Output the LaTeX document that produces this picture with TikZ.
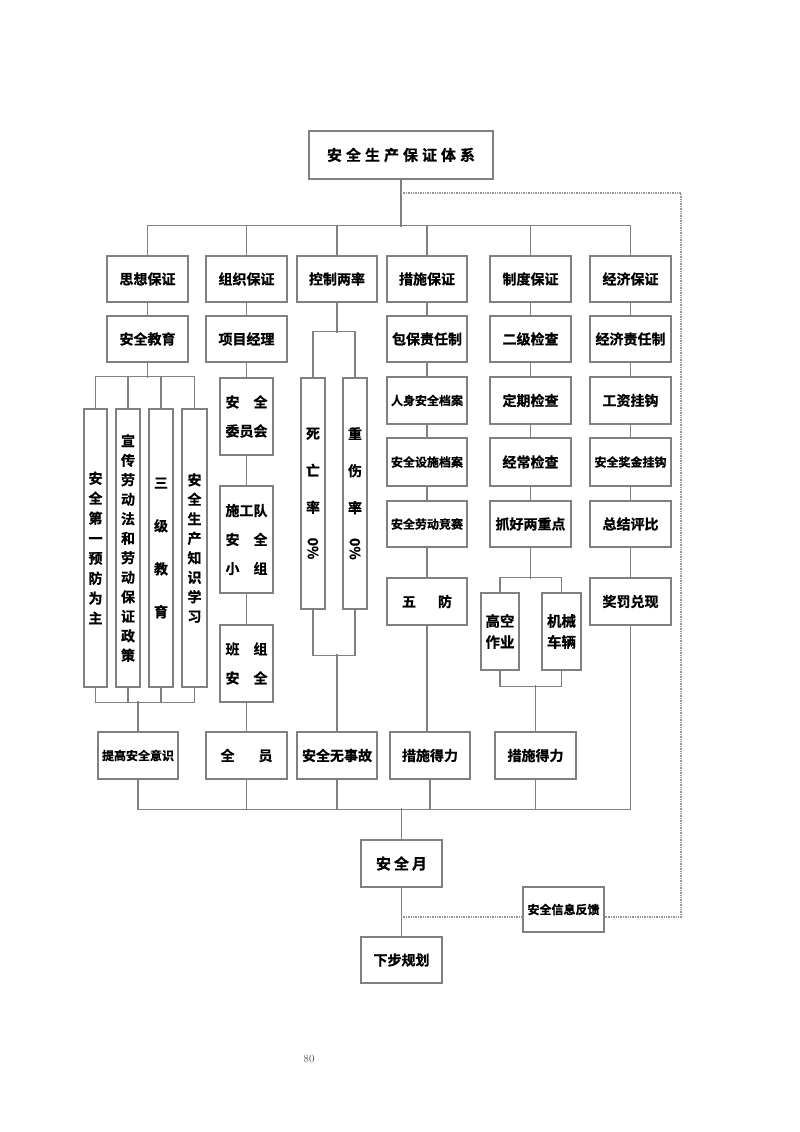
\documentclass[tikz,border=0pt]{standalone}
\usepackage{fontspec}
\usepackage{graphicx}
\newfontfamily\cjk{Noto Sans CJK SC}[BoldFont={Noto Sans CJK SC Bold},BoldFeatures={FakeBold=0.8}]
\definecolor{lc}{RGB}{128,128,128}
\definecolor{fc}{RGB}{150,150,155}
\newcommand\bx[7][]{\node[bx,#1,minimum width={(#5-#3)*1pt},minimum height={(#6-#4)*1pt}] (#2) at ({(#3+#5)/2},{(#4+#6)/2}) {#7};}
\newcommand\cf[2]{\cjk\bfseries\fontsize{#1}{#2}\selectfont}
\newcommand\vcol[2]{\vbox{\baselineskip=#1\lineskiplimit=-100pt\lineskip=0pt\relax #2}}
\newcommand\hc[1]{\hbox to 14pt{\hss#1\hss}}
\begin{document}
\begin{tikzpicture}[x=1pt,y=-1pt,
  ln/.style={draw=lc,line width=1.2pt},
  bx/.style={draw=lc,line width=1.2pt,inner sep=0pt,align=center,text=black,
    font=\cf{14}{17}},
  six/.style={font=\cf{12}{15}},
  vtwide/.style={font=\cf{14}{43}},
  vtrate/.style={font=\cf{14}{37}},
  bline/.style={font=\cf{14}{29}},
  eline/.style={font=\cf{14.5}{22}},
  fb/.style={draw=fc,line width=1.4pt,densely dotted}]
\useasboundingbox (0,0) rectangle (800,1132);
% top
\bx[font=\cf{15}{18}]{T}{309}{131}{493}{179}{安\hspace{4pt}全\hspace{4pt}生\hspace{4pt}产\hspace{4pt}保\hspace{4pt}证\hspace{4pt}体\hspace{4pt}系}
% level 1
\bx{A1}{107}{256}{188}{302}{思想保证}
\bx{B1}{206}{256}{287}{302}{组织保证}
\bx{C1}{297}{256}{377}{302}{控制两率}
\bx{D1}{387}{256}{467}{302}{措施保证}
\bx{E1}{490}{256}{571}{302}{制度保证}
\bx{F1}{590}{256}{671}{302}{经济保证}
% level 2
\bx{A2}{107}{316}{188}{362}{安全教育}
\bx{B2}{206}{316}{287}{362}{项目经理}
\bx{D2}{387}{316}{467}{362}{包保责任制}
\bx{E2}{490}{316}{571}{362}{二级检查}
\bx{F2}{590}{316}{671}{362}{经济责任制}
% D E F columns
\bx[six]{D3}{387}{377}{467}{424}{人身安全档案}
\bx{E3}{490}{377}{571}{424}{定期检查}
\bx{F3}{590}{377}{671}{424}{工资挂钩}
\bx[six]{D4}{387}{438}{467}{486}{安全设施档案}
\bx{E4}{490}{438}{571}{486}{经常检查}
\bx[six]{F4}{590}{438}{671}{486}{安全奖金挂钩}
\bx[six]{D5}{387}{501}{467}{547}{安全劳动竞赛}
\bx{E5}{490}{501}{571}{547}{抓好两重点}
\bx{F5}{590}{501}{671}{547}{总结评比}
\bx{D6}{387}{578}{467}{625}{五\hspace{22pt}防}
\bx{F6}{590}{578}{671}{625}{奖罚兑现}
\bx[font=\cf{14.5}{21}]{E6a}{481}{593}{519}{670}{\vcol{21pt}{\hbox{高空}\hbox{作业}}}
\bx[font=\cf{14.5}{21}]{E6b}{542}{593}{581}{670}{\vcol{21pt}{\hbox{机械}\hbox{车辆}}}
% A column
\bx{A3a}{84}{409}{107}{687}{\vcol{20pt}{\hc{安}\hc{全}\hc{第}\hc{一}\hc{预}\hc{防}\hc{为}\hc{主}}}
\bx{A3b}{116}{409}{140}{687}{\vcol{19.5pt}{\hc{宣}\hc{传}\hc{劳}\hc{动}\hc{法}\hc{和}\hc{劳}\hc{动}\hc{保}\hc{证}\hc{政}\hc{策}}}
\bx[vtwide]{A3c}{149}{409}{173}{687}{三\\级\\教\\育}
\bx{A3d}{182}{409}{207}{687}{\vcol{19.5pt}{\hc{安}\hc{全}\hc{生}\hc{产}\hc{知}\hc{识}\hc{学}\hc{习}}}
% B column
\bx[bline]{B3}{220}{378}{273}{455}{安　全\\委员会}
\bx[bline]{B4}{220}{486}{273}{593}{施工队\\安　全\\小　组}
\bx[bline]{B5}{220}{625}{273}{702}{班　组\\安　全}
% C column
\bx[vtrate]{C3a}{301}{378}{325}{609}{死\\亡\\率\\\raisebox{12pt}{\rotatebox{-90}{0\%}}}
\bx[vtrate]{C3b}{343}{378}{367}{609}{重\\伤\\率\\\raisebox{12pt}{\rotatebox{-90}{0\%}}}
% bottom row
\bx[six]{A7}{98}{732}{178}{779}{提高安全意识}
\bx{B7}{206}{732}{287}{779}{全\hspace{24pt}员}
\bx{C7}{297}{732}{377}{779}{安全无事故}
\bx{D7}{390}{732}{470}{779}{措施得力}
\bx{E7}{495}{732}{576}{779}{措施得力}
\bx[font=\cf{15}{18}]{M}{361}{840}{442}{887}{安\hspace{3pt}全\hspace{3pt}月}
\bx{N}{361}{937}{442}{983}{下步规划}
\bx[six]{R}{523}{887}{604}{932}{安全信息反馈}
\node[font=\fontsize{11}{13}\selectfont,text={rgb,255:red,70;green,70;blue,70}] (pg) at (309,1059) {80};
% connectors: top
\draw[ln] (T.south) -- ++(0,47);
\draw[ln] (A1.north) -- ++(0,-30) -| (F1.north);
\draw[ln] (B1.north) -- ++(0,-30);
\draw[ln] (C1.north) -- ++(0,-30);
\draw[ln] (D1.north) -- ++(0,-30);
\draw[ln] (E1.north) -- ++(0,-30);
% A
\draw[ln] (A1.south) -- (A2.north);
\draw[ln] (A2.south) -- ++(0,15);
\draw[ln] (A3a.north) -- ++(0,-32) -| (A3d.north);
\draw[ln] (A3b.north) -- ++(0,-32);
\draw[ln] (A3c.north) -- ++(0,-32);
\draw[ln] (A3a.south) -- ++(0,15) -| (A3d.south);
\draw[ln] (A3b.south) -- ++(0,15);
\draw[ln] (A3c.south) -- ++(0,15);
\draw[ln] (A7.north) -- ++(0,-30);
% B
\draw[ln] (B1.south) -- (B2.north);
\draw[ln] (B2.south) -- (B3.north);
\draw[ln] (B3.south) -- (B4.north);
\draw[ln] (B4.south) -- (B5.north);
\draw[ln] (B5.south) -- (B7.north);
% C
\draw[ln] (C1.south) -- ++(0,30);
\draw[ln] (C3a.north) -- ++(0,-46) -| (C3b.north);
\draw[ln] (C3a.south) -- ++(0,46) -| (C3b.south);
\draw[ln] (C7.north) -- ++(0,-77);
% D
\draw[ln] (D1.south) -- (D2.north);
\draw[ln] (D2.south) -- (D3.north);
\draw[ln] (D3.south) -- (D4.north);
\draw[ln] (D4.south) -- (D5.north);
\draw[ln] (D5.south) -- (D6.north);
\draw[ln] (D6.south) -- (D6.south |- D7.north);
% E
\draw[ln] (E1.south) -- (E2.north);
\draw[ln] (E2.south) -- (E3.north);
\draw[ln] (E3.south) -- (E4.north);
\draw[ln] (E4.south) -- (E5.north);
\draw[ln] (E5.south) -- ++(0,31);
\draw[ln] (E6a.north) -- ++(0,-15) -| (E6b.north);
\draw[ln] (E6a.south) -- ++(0,16) -| (E6b.south);
\draw[ln] (E7.north) -- ++(0,-46);
% F
\draw[ln] (F1.south) -- (F2.north);
\draw[ln] (F2.south) -- (F3.north);
\draw[ln] (F3.south) -- (F4.north);
\draw[ln] (F4.south) -- (F5.north);
\draw[ln] (F5.south) -- (F6.north);
% bottom bus
\draw[ln] (A7.south) -- ++(0,30) -| (F6.south);
\draw[ln] (B7.south) -- ++(0,30);
\draw[ln] (C7.south) -- ++(0,30);
\draw[ln] (D7.south) -- ++(0,30);
\draw[ln] (E7.south) -- ++(0,30);
\draw[ln] (M.north) -- ++(0,-31);
\draw[ln] (M.south) -- (N.north);
% feedback
\coordinate (fb1) at (401,193);
\coordinate (fb2) at (681,193);
\coordinate (fb3) at (681,917);
\coordinate (fb4) at (401,917);
\draw[fb] (fb1) -- (fb2) -- (fb3) -- (R.east |- fb3);
\draw[fb] (R.west |- fb3) -- (fb4);
\end{tikzpicture}
\end{document}
